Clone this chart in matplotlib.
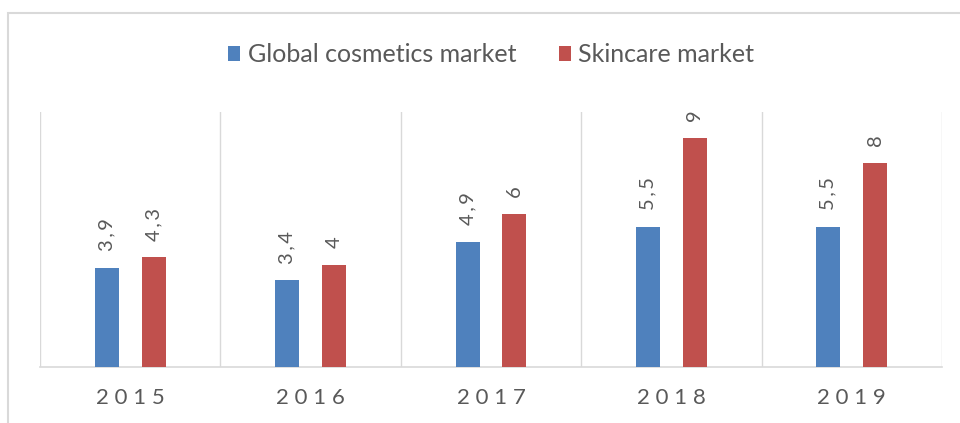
import matplotlib
matplotlib.use("Agg")
import matplotlib.pyplot as plt
from matplotlib.patches import Rectangle
import numpy as np

plt.rcParams['font.family'] = ['Lato', 'DejaVu Sans']

years = ['2015', '2016', '2017', '2018', '2019']
global_cosmetics = [3.9, 3.4, 4.9, 5.5, 5.5]
skincare = [4.3, 4.0, 6.0, 9.0, 8.0]
series_names = ['Global cosmetics market', 'Skincare market']
colors = ['#4F81BD', '#C0504D']
text_grey = '#595959'


def spaced(s, sep='\u2009'):
    # fake the letter spacing Excel uses for the labels
    return sep.join(s)


fig = plt.figure(figsize=(9.6, 4.23), dpi=100)
ax = fig.add_axes([40 / 960, 1 - 367 / 423, 902 / 960, 255 / 423])

x = np.arange(len(years))
w = 0.133
off = 0.13
for vals, col, sign, name in zip([global_cosmetics, skincare], colors, [-1, 1], series_names):
    bars = ax.bar(x + sign * off, vals, width=w, color=col, label=name, zorder=3)
    for b, v in zip(bars, vals):
        lab = ('%g' % v).replace('.', ',')
        ax.annotate(spaced(lab), (b.get_x() + b.get_width() / 2, b.get_height()),
                    xytext=(0, 12), textcoords='offset points', rotation=90,
                    ha='center', va='bottom', fontsize=14.5, color=text_grey)

ax.set_xlim(-0.5, len(years) - 0.5)
ax.set_ylim(0, 10)
ax.set_yticks([])
ax.set_xticks(x)
ax.set_xticklabels([' '.join(y) for y in years], fontsize=16, color=text_grey)
ax.tick_params(axis='x', length=0, pad=15)
ax.set_xticks(np.arange(-0.5, len(years)), minor=True)
ax.tick_params(axis='x', which='minor', length=0)
ax.grid(which='minor', axis='x', color='#D9D9D9', linewidth=1, zorder=0)
for s in ['top', 'left', 'right']:
    ax.spines[s].set_visible(False)
ax.spines['bottom'].set_color('#D9D9D9')
ax.spines['bottom'].set_linewidth(1.2)

handles, labels = ax.get_legend_handles_labels()
fig.legend(handles, labels, loc='center', bbox_to_anchor=(491 / 960, 1 - 55 / 423),
           ncol=2, frameon=False, fontsize=18, handlelength=0.5, handleheight=0.5,
           handletextpad=0.3, columnspacing=1.7, labelcolor=text_grey)

# outer chart frame, cut off by the screenshot at right and bottom
fig.patches.append(Rectangle((8 / 960, -0.2), 1.2, 1.2 - 13 / 423, transform=fig.transFigure,
                             fill=False, edgecolor='#D9D9D9', linewidth=1.5))

fig.savefig('out.png', dpi=100)
